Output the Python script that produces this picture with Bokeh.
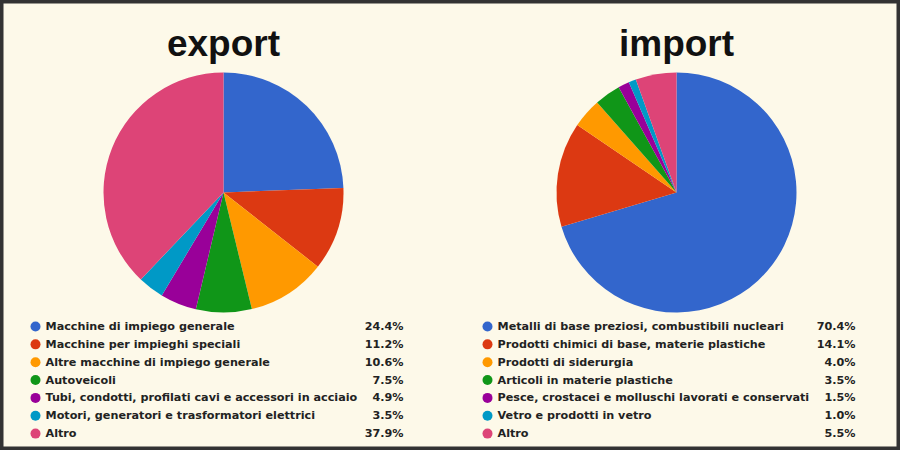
import numpy as np
from bokeh.plotting import figure
from bokeh.models import Range1d
from bokeh.core.properties import value
from bokeh.embed import file_html
from bokeh.resources import INLINE

colors = ["#3366CC", "#DC3912", "#FF9900", "#109618", "#990099", "#0099C6", "#DD4477"]

export_labels = [
    "Macchine di impiego generale",
    "Macchine per impieghi speciali",
    "Altre macchine di impiego generale",
    "Autoveicoli",
    "Tubi, condotti, profilati cavi e accessori in acciaio",
    "Motori, generatori e trasformatori elettrici",
    "Altro",
]
export_values = [24.4, 11.2, 10.6, 7.5, 4.9, 3.5, 37.9]

import_labels = [
    "Metalli di base preziosi, combustibili nucleari",
    "Prodotti chimici di base, materie plastiche",
    "Prodotti di siderurgia",
    "Articoli in materie plastiche",
    "Pesce, crostacei e molluschi lavorati e conservati",
    "Vetro e prodotti in vetro",
    "Altro",
]
import_values = [70.4, 14.1, 4.0, 3.5, 1.5, 1.0, 5.5]

titles = ["export", "import"]

W, H = 900, 450
p = figure(width=W, height=H, output_backend="svg", toolbar_location=None,
           x_range=Range1d(0, 900), y_range=Range1d(0, 450),
           min_border=0, background_fill_color="#FDF9E9", border_fill_color="#FDF9E9",
           outline_line_color="#333333", outline_line_width=6)
p.axis.visible = False
p.grid.visible = False

def Y(y):
    return 450 - y

def draw(cx, title, labels, values, dot_x, pct_x):
    vals = np.array(values, dtype=float)
    frac = vals / vals.sum()
    cum = np.concatenate([[0], np.cumsum(frac)])
    starts = np.pi / 2 - cum[:-1] * 2 * np.pi
    ends = np.pi / 2 - cum[1:] * 2 * np.pi
    p.wedge(x=cx, y=Y(192), radius=120, start_angle=starts, end_angle=ends,
            direction="clock", fill_color=colors, line_color=None)
    p.text(x=[cx], y=[Y(43)], text=[title], text_align="center", text_baseline="middle",
           text_font=value("Liberation Sans"), text_font_style="bold",
           text_font_size="37px", text_color="#111111")
    ys = [Y(326 + i * 17.85) for i in range(len(labels))]
    p.scatter(x=[dot_x] * len(labels), y=ys, size=10, fill_color=colors, line_color=None)
    p.text(x=[dot_x + 10] * len(labels), y=ys, text=labels, text_align="left",
           text_baseline="middle", text_font=value("DejaVu Sans"), text_font_style="bold",
           text_font_size="11.2px", text_color="#222222")
    pct = [f"{v:.1f}%" for v in values]
    p.text(x=[pct_x] * len(labels), y=ys, text=pct, text_align="right",
           text_baseline="middle", text_font=value("DejaVu Sans"), text_font_style="bold",
           text_font_size="11.2px", text_color="#222222")

draw(223, titles[0], export_labels, export_values, 35, 403)
draw(676, titles[1], import_labels, import_values, 487, 855)

open("out.html", "w").write(file_html(p, INLINE))
